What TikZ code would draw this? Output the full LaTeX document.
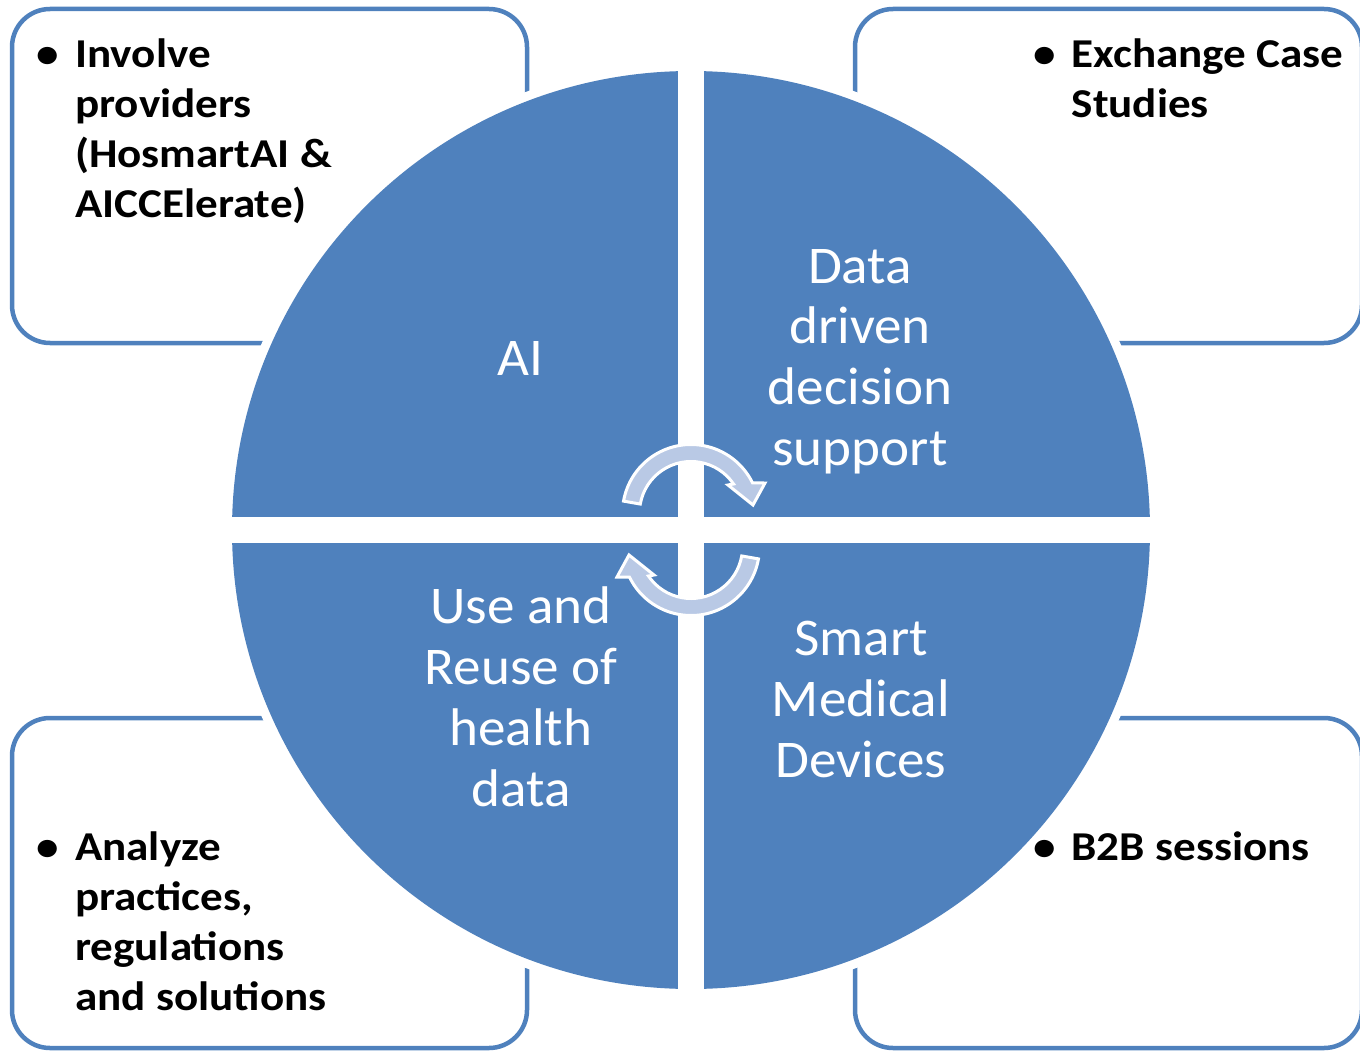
\documentclass[tikz,border=0pt]{standalone}
\usepackage{fontspec}
\setmainfont{Carlito}
\newfontfamily\boxfont[FakeStretch=1.1]{Carlito}
\newfontfamily\quadfont[FakeStretch=1.04]{Carlito}
\definecolor{qblue}{RGB}{79,129,189}
\definecolor{arrowfill}{RGB}{185,201,229}
\newcommand{\bul}{\makebox[38.5pt][l]{•}}
\begin{document}
\begin{tikzpicture}[x=1pt,y=-1pt,
  boxline/.style={draw=qblue,line width=4.5pt,rounded corners=38pt},
  bullettext/.style={anchor=base west,inner sep=0pt,font=\boxfont\bfseries\fontsize{41}{50}\selectfont},
  quadtext/.style={anchor=base,inner sep=0pt,text=white,font=\quadfont\fontsize{53}{61}\selectfont},
  cyclearrow/.style={fill=arrowfill,draw=white,line width=3pt,line join=miter}]
\useasboundingbox (0,0) rectangle (1360,1051);
\begin{scope}
\clip (0,0) rectangle (1360,1051);
\draw[boxline] (12,9) rectangle (527,343);
\draw[boxline] (855,9) rectangle (1362,343);
\draw[boxline] (12,718) rectangle (527,1048);
\draw[boxline] (855,718) rectangle (1362,1048);
\end{scope}
% circle
\fill[white] (691,530) circle[radius=468];
\fill[qblue] (691,530) circle[radius=459];
\fill[white] (678,60) rectangle (704,1000);
\fill[white] (220,517) rectangle (1162,543);
% quadrant texts
\node[quadtext] (ai) at (520,375) {AI};
\node[quadtext] (ddds) at (860,283) {\begin{tabular}[t]{@{}c@{}}Data\\driven\\decision\\support\end{tabular}};
\node[quadtext] (reuse) at (521,623) {\begin{tabular}[t]{@{}c@{}}Use and\\Reuse of\\health\\data\end{tabular}};
\node[quadtext] (smd) at (861,655) {\begin{tabular}[t]{@{}c@{}}Smart\\Medical\\Devices\end{tabular}};
% box texts
\node[bullettext] (tl) at (36.5,68) {\begin{tabular}[t]{@{}l@{}l@{}}\bul&Involve\\&providers\\&(HosmartAI \&\\&AICCElerate)\end{tabular}};
\node[bullettext] (tr) at (1033,68) {\begin{tabular}[t]{@{}l@{}l@{}}\bul&Exchange Case\\&Studies\end{tabular}};
\node[bullettext] (bl) at (36.5,860) {\begin{tabular}[t]{@{}l@{}l@{}}\bul&Analyze\\&practices,\\&regulations\\&and solutions\end{tabular}};
\node[bullettext] (br) at (1033,860) {\begin{tabular}[t]{@{}l@{}l@{}}\bul&B2B sessions\end{tabular}};
% cycle arrows
\begin{scope}[shift={(691,513)},yscale=-1]
\draw[cyclearrow] (170:68.5) arc[start angle=170,end angle=26,radius=68.5] -- (74,30) -- (62,8) -- (37,28) -- (34.3:51.5) arc[start angle=34.3,end angle=170,radius=51.5] -- cycle;
\end{scope}
\begin{scope}[shift={(691,547)},yscale=-1,rotate=180]
\draw[cyclearrow] (170:68.5) arc[start angle=170,end angle=26,radius=68.5] -- (74,30) -- (62,8) -- (37,28) -- (34.3:51.5) arc[start angle=34.3,end angle=170,radius=51.5] -- cycle;
\end{scope}
\end{tikzpicture}
\end{document}
